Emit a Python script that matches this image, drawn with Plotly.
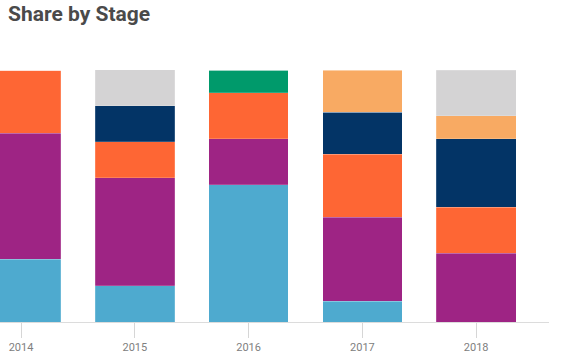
import plotly.graph_objects as go

years = ["2014", "2015", "2016", "2017", "2018"]
stage_names = ["Stage 1", "Stage 2", "Stage 3", "Stage 4", "Stage 5", "Stage 6", "Stage 7"]
stage_colors = ["#4eaacf", "#9e2484", "#fe6634", "#033466", "#009a6b", "#f8aa63", "#d4d3d4"]

# shares (%) per stage, per year
stage1 = [25.0, 14.29, 54.55, 8.33, 0.0]
stage2 = [50.0, 42.86, 18.18, 33.33, 27.27]
stage3 = [25.0, 14.29, 18.18, 25.0, 18.18]
stage4 = [0.0, 14.29, 0.0, 16.67, 27.27]
stage5 = [0.0, 0.0, 9.09, 0.0, 0.0]
stage6 = [0.0, 0.0, 0.0, 16.67, 9.09]
stage7 = [0.0, 14.29, 0.0, 0.0, 18.18]

series = [stage1, stage2, stage3, stage4, stage5, stage6, stage7]

fig = go.Figure()
for name, color, vals in zip(stage_names, stage_colors, series):
    fig.add_trace(go.Bar(
        x=years, y=vals, name=name,
        marker=dict(color=color, line=dict(color="rgba(255,255,255,0.35)", width=0.5)),
        hovertemplate="%{x}: %{y:.1f}%<extra>" + name + "</extra>",
    ))

fig.update_layout(
    barmode="stack",
    bargap=0.30,
    width=572, height=364,
    margin=dict(l=0, r=23, t=70, b=42),
    paper_bgcolor="white", plot_bgcolor="white",
    showlegend=False,
    title=dict(text="Share by Stage", x=0.014, xanchor="left", y=0.984, yanchor="top",
               font=dict(family="Roboto", size=21, color="#4a4a4a", weight=700)),
    xaxis=dict(
        type="category", range=[-0.185, 4.64],
        showline=True, linecolor="#dcdcdc", linewidth=1,
        ticks="outside", ticklen=15, tickcolor="#d6d6d6", tickwidth=1,
        tickfont=dict(family="Roboto", size=11, color="#808080"),
        showgrid=False, zeroline=False,
    ),
    yaxis=dict(range=[0, 100], visible=False, showgrid=False, zeroline=False),
)

fig.write_html("out.html", config={"displayModeBar": False},
               post_script="document.body.style.margin='0';")
